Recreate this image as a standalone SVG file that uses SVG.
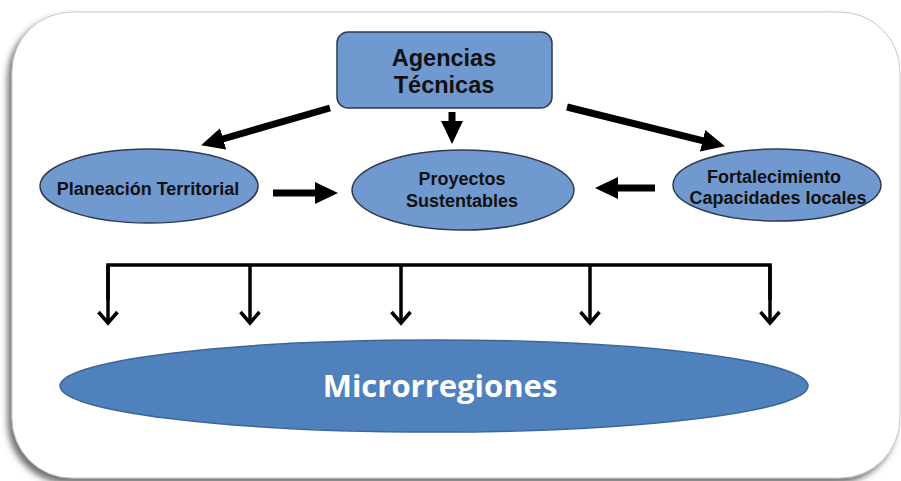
<svg xmlns="http://www.w3.org/2000/svg" width="901" height="481" viewBox="0 0 901 481">
  <style>
    .node { fill: #7099cf; stroke: #2e3b52; stroke-width: 1.5; }
    .lbl { font-family: "Liberation Sans", Arial, sans-serif; font-weight: bold; fill: #111; text-anchor: middle; }
    .thick { stroke: #000; stroke-width: 7; fill: none; marker-end: url(#head); }
    .thin { stroke: #000; stroke-width: 3.5; fill: none; }
    .drop { stroke: #000; stroke-width: 3.5; fill: none; marker-end: url(#chev); }
  </style>
  <defs>
    <filter id="shadow" x="-5%" y="-5%" width="110%" height="115%">
      <feDropShadow dx="-4" dy="5" stdDeviation="3" flood-color="#444" flood-opacity="0.75"/>
    </filter>
    <marker id="head" markerUnits="userSpaceOnUse" viewBox="0 0 23 22" markerWidth="23" markerHeight="22" refX="4" refY="11" orient="auto">
      <path d="M0,0 L23,11 L0,22 z" fill="#000"/>
    </marker>
    <marker id="chev" markerUnits="userSpaceOnUse" viewBox="-3 -13 18 26" markerWidth="18" markerHeight="26" refX="11" refY="0" orient="auto">
      <path d="M0,-9.5 L11,0 L0,9.5" fill="none" stroke="#000" stroke-width="3.5" stroke-linejoin="miter"/>
    </marker>
  </defs>

  <rect x="0" y="0" width="901" height="481" fill="#fff"/>
  <g id="frame">
    <rect x="12" y="12" width="888" height="466" rx="60" ry="60" fill="#fff" stroke="#c8c8c8" stroke-width="1" filter="url(#shadow)"/>
  </g>

  <g id="connectors">
    <line class="thick" x1="330" y1="108" x2="219.3" y2="140"/>
    <line class="thick" x1="452" y1="112" x2="452" y2="125"/>
    <line class="thick" x1="567" y1="107" x2="706.5" y2="141.7"/>
    <line class="thick" x1="273" y1="193" x2="319" y2="193"/>
    <line class="thick" x1="655" y1="188" x2="614" y2="188"/>
    <path class="thin" d="M108,300 V265 H770 V300"/>
    <line class="drop" x1="108" y1="265" x2="108" y2="323"/>
    <line class="drop" x1="250" y1="265" x2="250" y2="323"/>
    <line class="drop" x1="401" y1="265" x2="401" y2="323"/>
    <line class="drop" x1="590" y1="265" x2="590" y2="323"/>
    <line class="drop" x1="770" y1="265" x2="770" y2="323"/>
  </g>

  <g id="agencias">
    <rect class="node" x="337" y="32" width="215" height="76" rx="11" ry="11"/>
    <text class="lbl" x="444" y="66" font-size="23.5">Agencias</text>
    <text class="lbl" x="444" y="93" font-size="23.5">Técnicas</text>
  </g>

  <g id="planeacion">
    <ellipse class="node" cx="149" cy="186" rx="109" ry="37"/>
    <text class="lbl" x="148" y="195" font-size="18">Planeación Territorial</text>
  </g>

  <g id="proyectos">
    <ellipse class="node" cx="463" cy="190" rx="111" ry="40"/>
    <text class="lbl" x="462" y="185" font-size="18">Proyectos</text>
    <text class="lbl" x="462" y="207" font-size="18">Sustentables</text>
  </g>

  <g id="fortalecimiento">
    <ellipse class="node" cx="777" cy="185" rx="104" ry="36"/>
    <text class="lbl" x="774" y="183" font-size="18">Fortalecimiento</text>
    <text class="lbl" x="778" y="204" font-size="18">Capacidades locales</text>
  </g>

  <g id="microrregiones">
    <ellipse cx="434" cy="386" rx="374" ry="46" fill="#4f81bd" stroke="#3d6699" stroke-width="1.5"/>
    <text x="440" y="397" font-family="'Open Sans', 'Liberation Sans', sans-serif" font-weight="bold" font-size="31" fill="#fff" text-anchor="middle">Microrregiones</text>
  </g>
</svg>
